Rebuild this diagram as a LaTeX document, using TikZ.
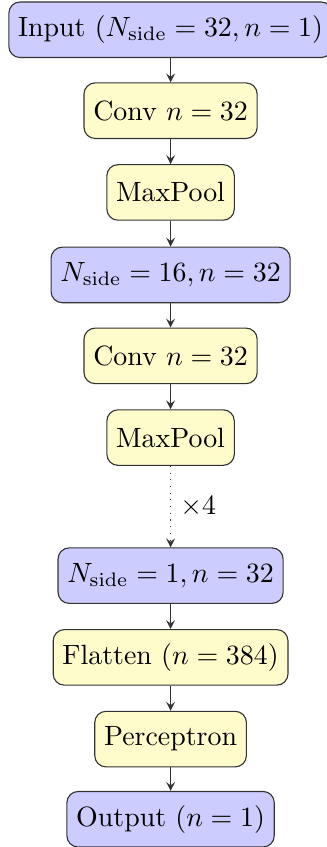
\documentclass[tikz,border=0pt]{standalone}
\usetikzlibrary{arrows}
\begin{document}
\begin{tikzpicture}[
		every node/.style={draw=black!80, rounded corners=4pt, minimum height=0.7cm, inner sep=3.33pt},
		tensor/.style={fill=blue!20},
		layer/.style={fill=yellow!20},
		flow/.style={-stealth, black!80}
	]
	\useasboundingbox (-2.15,0.375) rectangle (1.97,-10.30);

	% first block
	\node[tensor] (input) at (0,0) {Input ($N_{\mathrm{side}} = 32, n = 1$)};
	\node[layer] (conv1) at (0,-1.02) {Conv $n = 32$};
	\node[layer] (pool1) at (0,-2.05) {MaxPool};
	\draw[flow] (input) -- (conv1);
	\draw[flow] (conv1) -- (pool1);

	% second block
	\node[tensor] (side16) at (0,-3.09) {$N_{\mathrm{side}} = 16, n = 32$};
	\node[layer] (conv2) at (0,-4.11) {Conv $n = 32$};
	\node[layer] (pool2) at (0,-5.14) {MaxPool};
	\draw[flow] (pool1) -- (side16);
	\draw[flow] (side16) -- (conv2);
	\draw[flow] (conv2) -- (pool2);

	% repeated blocks
	\node[tensor] (side1) at (0,-6.88) {$N_{\mathrm{side}} = 1, n = 32$};
	\draw[flow, dotted] (pool2) -- node[draw=none, fill=none, text=black, rounded corners=0pt, minimum height=0pt, right] (repeat) {$\times 4$} (side1);

	% head
	\node[layer] (flatten) at (0,-7.91) {Flatten ($n = 384$)};
	\node[layer] (mlp) at (0,-8.94) {Perceptron};
	\node[tensor] (output) at (0,-9.95) {Output ($n = 1$)};
	\draw[flow] (side1) -- (flatten);
	\draw[flow] (flatten) -- (mlp);
	\draw[flow] (mlp) -- (output);
\end{tikzpicture}
\end{document}
